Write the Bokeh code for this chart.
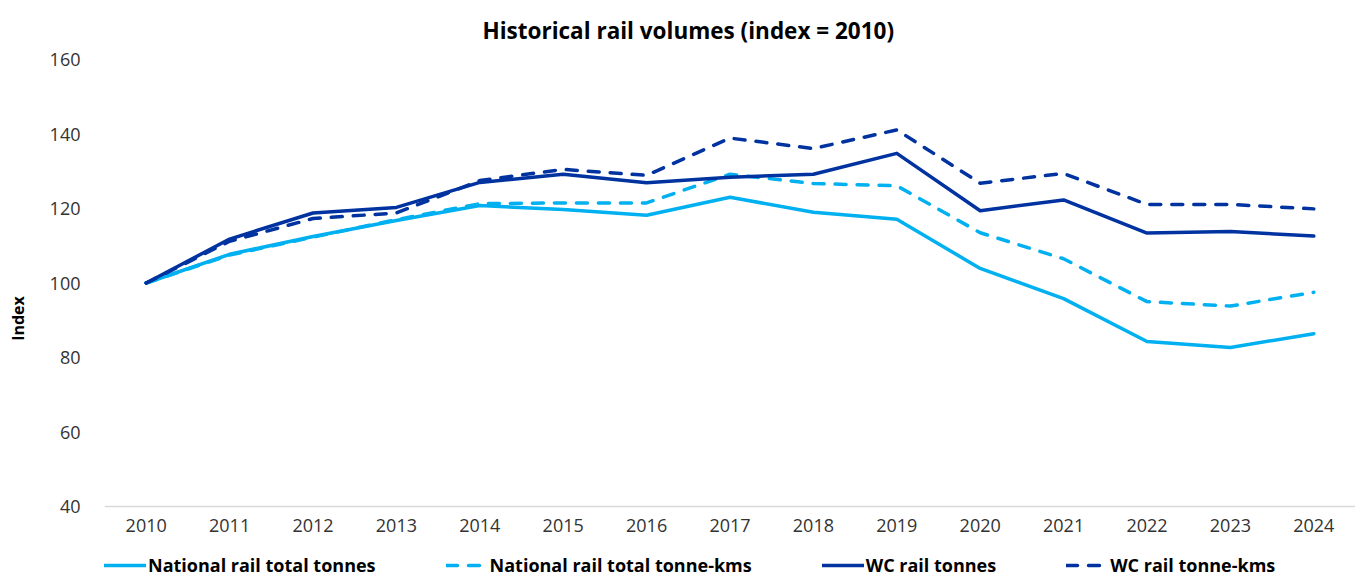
from bokeh.plotting import figure
from bokeh.models import Legend, LegendItem, FactorRange, Range1d
from bokeh.embed import file_html
from bokeh.resources import INLINE

years = [str(y) for y in range(2010, 2025)]
national_tonnes = [100, 107.7, 112.5, 116.8, 120.8, 119.7, 118.2, 123.0, 119.0, 117.1, 103.9, 95.8, 84.3, 82.7, 86.4]
national_tkms = [100, 107.5, 112.3, 117.0, 121.3, 121.5, 121.5, 129.2, 126.7, 126.1, 113.5, 106.5, 95.0, 93.8, 97.5]
wc_tonnes = [100, 111.8, 118.8, 120.3, 127.0, 129.2, 126.9, 128.4, 129.2, 134.8, 119.4, 122.3, 113.4, 113.8, 112.6]
wc_tkms = [100, 111.2, 117.3, 118.8, 127.5, 130.5, 128.9, 138.9, 136.1, 141.1, 126.8, 129.4, 121.1, 121.1, 119.9]

series_names = ["National rail total tonnes", "National rail total tonne-kms", "WC rail tonnes", "WC rail tonne-kms"]
y_ticks = [40, 60, 80, 100, 120, 140, 160]

LIGHT = "#00B0F0"
DARK = "#0033A0"
FONT = "Open Sans"

# frame extends below the 40 baseline to hold the legend row
p = figure(x_range=FactorRange(*years), y_range=Range1d(20.94, 160),
           frame_width=1251, frame_height=518,
           min_border_left=104, min_border_right=0, min_border_top=59, min_border_bottom=0,
           output_backend="svg", toolbar_location=None,
           title="Historical rail volumes (index = 2010)")
p.x_range.range_padding = 0
p.title.align = "left"
p.title.offset = 378
p.title.vertical_align = "middle"
p.title.text_font = FONT
p.title.text_font_size = "22.5px"
p.title.text_font_style = "bold"
p.title.text_color = "#000000"
p.title.standoff = 25

p.xgrid.visible = False
p.ygrid.visible = False
p.outline_line_color = None

p.xaxis.fixed_location = 40
p.xaxis.axis_line_color = "#D9D9D9"
p.xaxis.axis_line_width = 1.5
p.xaxis.major_tick_line_color = None
p.xaxis.minor_tick_line_color = None
p.xaxis.major_tick_out = 0
p.xaxis.major_tick_in = 0
p.xaxis.major_label_text_font = FONT
p.xaxis.major_label_text_font_size = "18px"
p.xaxis.major_label_text_color = "#333333"
p.xaxis.major_label_standoff = 12

p.yaxis.axis_line_color = None
p.yaxis.major_tick_line_color = None
p.yaxis.minor_tick_line_color = None
p.yaxis.major_tick_out = 0
p.yaxis.major_tick_in = 0
p.yaxis.ticker = y_ticks
p.yaxis.major_label_text_font = FONT
p.yaxis.major_label_text_font_size = "18px"
p.yaxis.major_label_text_color = "#333333"
p.yaxis.major_label_standoff = 24
p.yaxis.axis_label = "Index"
p.yaxis.axis_label_text_font = FONT
p.yaxis.axis_label_text_font_size = "16px"
p.yaxis.axis_label_text_font_style = "bold"
p.yaxis.axis_label_text_color = "#000000"
p.yaxis.axis_label_standoff = 18

r1 = p.line(years, national_tonnes, line_color=LIGHT, line_width=3.5, line_join="round", line_cap="round")
r2 = p.line(years, national_tkms, line_color=LIGHT, line_width=3.5, line_dash="11 11", line_join="round", line_cap="round")
r3 = p.line(years, wc_tonnes, line_color=DARK, line_width=3.5, line_join="round", line_cap="round")
r4 = p.line(years, wc_tkms, line_color=DARK, line_width=3.5, line_dash="11 11", line_join="round", line_cap="round")

legend = Legend(items=[LegendItem(label=n, renderers=[r]) for n, r in zip(series_names, [r1, r2, r3, r4])],
                orientation="horizontal", location=(0, 0),
                label_text_font=FONT, label_text_font_size="18px", label_text_font_style="bold",
                label_text_color="#000000", glyph_width=42, glyph_height=24, label_height=24,
                label_standoff=2, spacing=70, padding=0, margin=0,
                border_line_color=None, background_fill_alpha=0)
p.add_layout(legend, "center")

open("out.html", "w").write(file_html(p, INLINE))
